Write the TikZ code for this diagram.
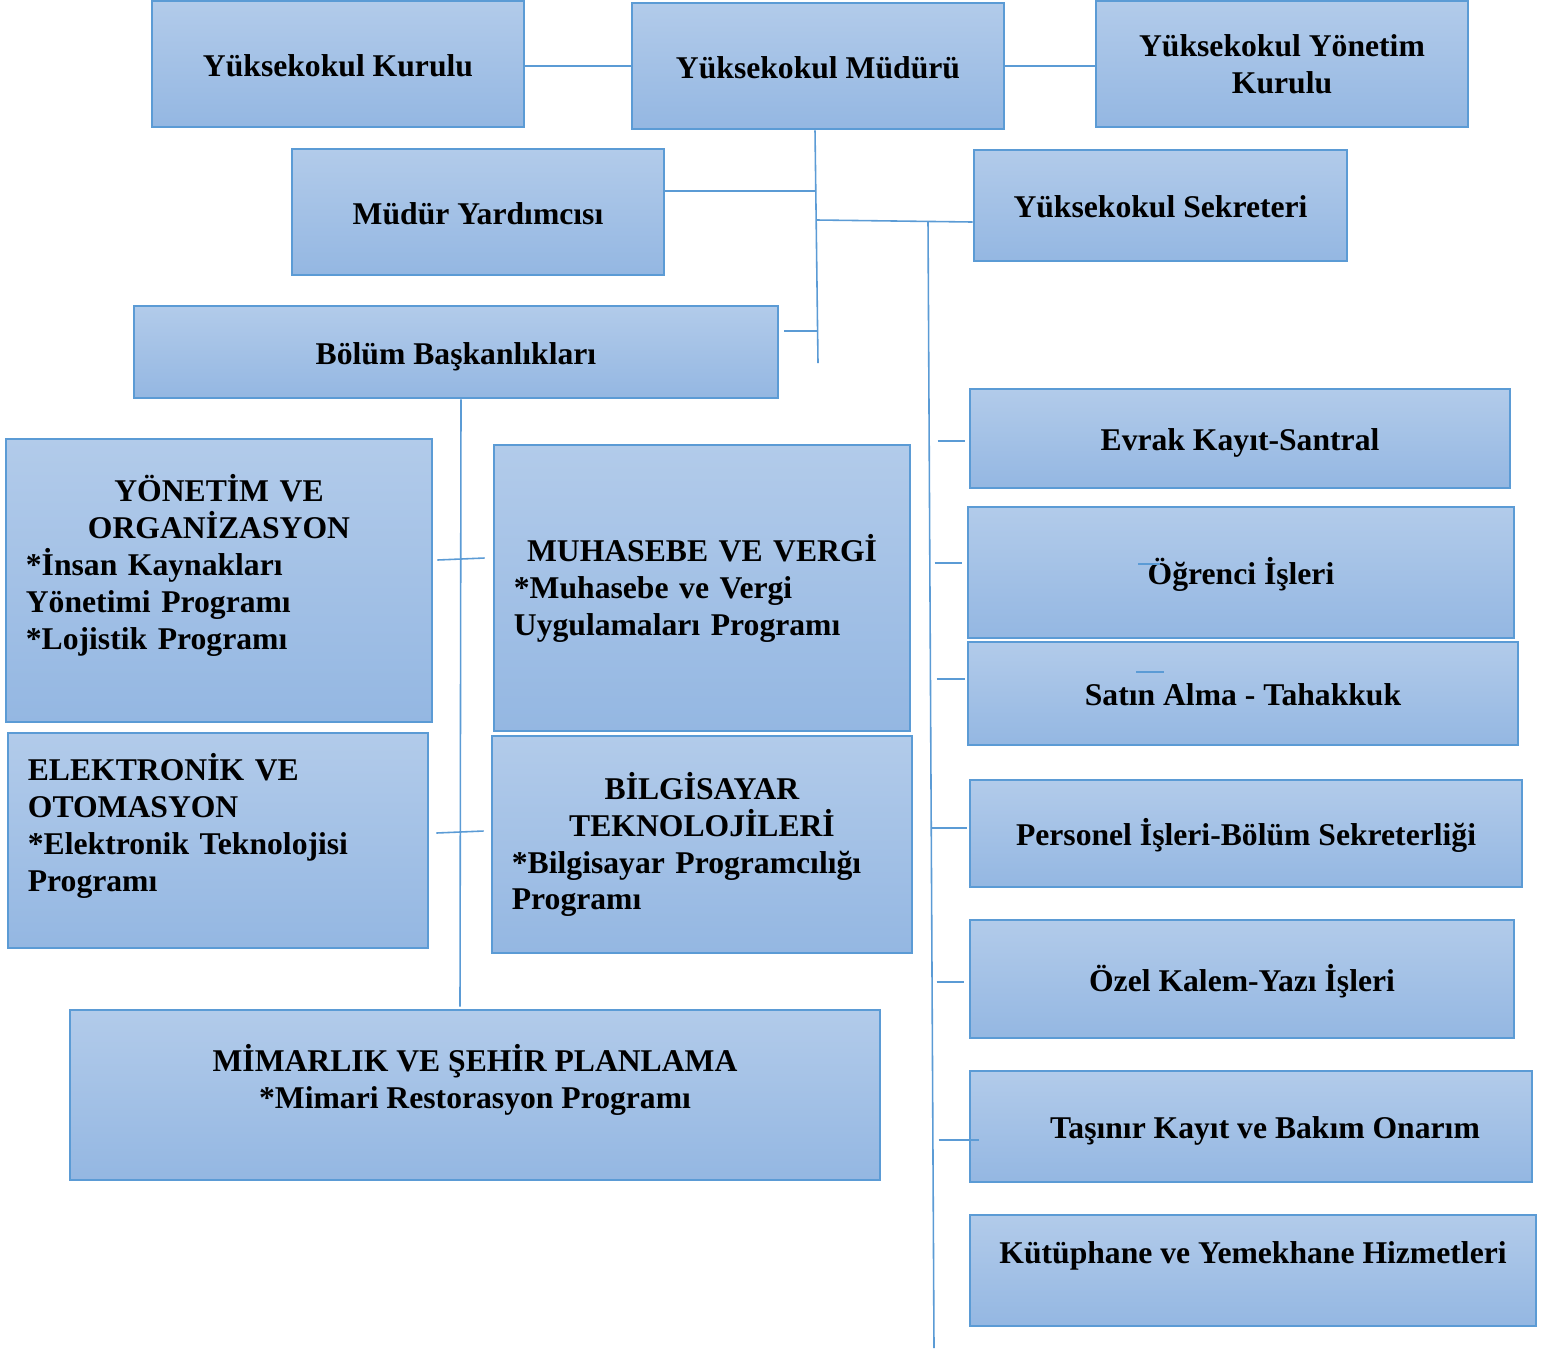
\documentclass[tikz,border=0pt]{standalone}
\usepackage{fontspec}
\setmainfont{Liberation Serif}
\definecolor{orgline}{RGB}{91,155,213}
\definecolor{orgtop}{RGB}{178,203,234}
\definecolor{orgbot}{RGB}{148,183,226}
\tikzset{
	unit/.style={draw=orgline, line width=0.7pt, top color=orgtop, bottom color=orgbot,
		font=\bfseries\fontsize{9pt}{10.5pt}\selectfont, align=center, inner sep=0pt, text=black},
	oneline/.style={unit, text height=8.5pt, text depth=1.5pt},
	prog/.style={unit, align=left, inner xsep=0.2cm},
	link/.style={draw=orgline, line width=0.45pt}
}
\newcommand{\midline}[1]{\makebox[\hsize][c]{#1}}

\begin{document}
\begin{tikzpicture}[x=0.01cm,y=-0.01cm]
		
		\useasboundingbox (0,0) rectangle (1543,1348);
		
		% top row
		\node[oneline, minimum width=3.72cm, minimum height=1.26cm] (kurulu) at (338,64) {Yüksekokul Kurulu};
		\node[oneline, minimum width=3.72cm, minimum height=1.26cm] (mudur) at (818,66) {Yüksekokul Müdürü};
		\node[unit, minimum width=3.72cm, minimum height=1.26cm] (ykurul) at (1282,64) {Yüksekokul Yönetim\\Kurulu};
		
		\node[oneline, minimum width=3.72cm, minimum height=1.26cm] (yardimci) at (478,212) {Müdür Yardımcısı};
		\node[oneline, minimum width=3.73cm, minimum height=1.11cm] (sekreter) at (1160.5,205.5) {Yüksekokul Sekreteri};
		\node[oneline, minimum width=6.44cm, minimum height=0.92cm] (bolum) at (456,352) {Bölüm Başkanlıkları};
		
		% departments
		\node[prog, text width=3.86cm, minimum height=2.83cm] (yonetim) at (219,580.5)
			{\midline{YÖNETİM VE}\\ \midline{ORGANİZASYON}\\ {*}İnsan Kaynakları\\ Yönetimi Programı\\ {*}Lojistik Programı\\ \mbox{}};
		\node[prog, text width=3.76cm, minimum height=2.86cm] (muhasebe) at (702,588)
			{\midline{MUHASEBE VE VERGİ}\\ {*}Muhasebe ve Vergi\\ Uygulamaları Programı};
		\node[prog, text width=3.80cm, minimum height=2.15cm] (elektronik) at (218,840.5)
			{ELEKTRONİK VE\\ OTOMASYON\\ {*}Elektronik Teknolojisi\\ Programı\\ \mbox{}};
		\node[prog, text width=3.80cm, minimum height=2.17cm] (bilgisayar) at (702,844.5)
			{\midline{BİLGİSAYAR}\\ \midline{TEKNOLOJİLERİ}\\ {*}Bilgisayar Programcılığı\\ Programı};
		\node[unit, minimum width=8.10cm, minimum height=1.70cm] (mimarlik) at (475,1095)
			{MİMARLIK VE ŞEHİR PLANLAMA\\ {*}Mimari Restorasyon Programı\\ \mbox{}};
		
		% offices
		\node[oneline, minimum width=5.40cm, minimum height=0.99cm] (evrak) at (1240,438.5) {Evrak Kayıt-Santral};
		\node[oneline, minimum width=5.46cm, minimum height=1.31cm] (ogrenci) at (1241,572.5) {Öğrenci İşleri};
		\node[oneline, minimum width=5.50cm, minimum height=1.03cm] (satin) at (1243,693.5) {Satın Alma - Tahakkuk};
		\node[oneline, minimum width=5.52cm, minimum height=1.07cm] (personel) at (1246,833.5) {Personel İşleri-Bölüm Sekreterliği};
		\node[oneline, minimum width=5.44cm, minimum height=1.18cm] (ozel) at (1242,979) {Özel Kalem-Yazı İşleri};
		\node[oneline, minimum width=5.62cm, minimum height=1.11cm] (tasinir) at (1251,1126.5) {\hspace*{0.28cm}Taşınır Kayıt ve Bakım Onarım};
		\node[unit, minimum width=5.66cm, minimum height=1.11cm] (kutup) at (1253,1270.5) {Kütüphane ve Yemekhane Hizmetleri\\ \mbox{}};
		
		% connectors
		\coordinate (trunkend) at (818,363);
		\coordinate (j1) at (816,191);
		\coordinate (j2) at (817,220);
		\coordinate (j3) at (818,331);
		\coordinate (spinetop) at (928,222);
		\coordinate (spinebot) at (934,1348);
		
		\draw[link] (kurulu.east |- mudur.west) -- (mudur.west);
		\draw[link] (mudur.east) -- (ykurul.west |- mudur.east);
		\draw[link] ([xshift=-0.03cm]mudur.south) -- (trunkend);
		\draw[link] (yardimci.east |- j1) -- (j1);
		\draw[link] (j2) -- ([yshift=-0.165cm]sekreter.west);
		\draw[link] ([shift={(5,-21)}]bolum.east) -- (j3);
		\draw[link] (spinetop) -- (spinebot);
		\draw[link] ([xshift=0.05cm]bolum.south) -- ([shift={(-15,-2)}]mimarlik.north);
		
		\draw[link] ([shift={(4,-20.5)}]yonetim.east) -- ([shift={(-8,-30)}]muhasebe.west);
		\draw[link] ([shift={(7,-7.5)}]elektronik.east) -- ([shift={(-7,-13.5)}]bilgisayar.west);
		
		\foreach \n/\a/\b/\dy in {evrak/-31/-4/2.5, ogrenci/-32/-5/-9.5, satin/-30/-2/-14.5,
			personel/-38/-2/-5.5, ozel/-32/-5/3, tasinir/-30/10/13.5}
		\draw[link] ([shift={(\a,\dy)}]\n.west) -- ([shift={(\b,\dy)}]\n.west);
		
		\draw[link] ([shift={(-103,-8.5)}]ogrenci.center) -- ([shift={(-81,-8.5)}]ogrenci.center);
		\draw[link] ([shift={(-107,-21.5)}]satin.center) -- ([shift={(-79,-21.5)}]satin.center);
		
	\end{tikzpicture}
\end{document}
